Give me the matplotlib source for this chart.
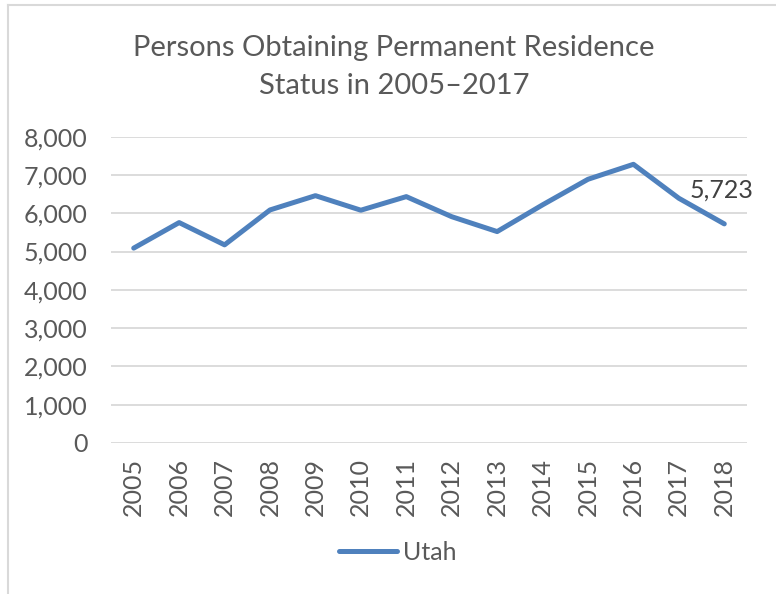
import matplotlib
matplotlib.use('Agg')
import matplotlib.pyplot as plt
from matplotlib.lines import Line2D
from matplotlib.ticker import FuncFormatter

years = ['2005', '2006', '2007', '2008', '2009', '2010', '2011',
         '2012', '2013', '2014', '2015', '2016', '2017', '2018']
utah = [5090, 5757, 5175, 6087, 6460, 6080, 6435,
        5911, 5522, 6220, 6888, 7279, 6392, 5723]

title = 'Persons Obtaining Permanent Residence\nStatus in 2005\u20132017'
line_color = '#4f81bd'
text_color = '#595959'
grid_color = '#d9d9d9'

plt.rcParams['font.family'] = ['Lato', 'DejaVu Sans']

fig = plt.figure(figsize=(7.76, 5.94), dpi=100)
ax = fig.add_axes([111 / 776, 1 - 443 / 594, (747 - 111) / 776, (443 - 136.7) / 594])

x = list(range(len(years)))
ax.plot(x, utah, color=line_color, linewidth=3.6, solid_capstyle='round',
        solid_joinstyle='round', label='Utah', zorder=3)

# data label on the last point only
ax.annotate(f'{utah[-1]:,}', (x[-1], utah[-1]), xytext=(-2, 16),
            textcoords='offset points', ha='center', va='bottom',
            fontsize=18, color='#404040')

ax.set_xlim(-0.5, len(years) - 0.5)
ax.set_ylim(0, 8000)
ax.set_yticks(range(0, 8001, 1000))
ax.yaxis.set_major_formatter(FuncFormatter(lambda v, p: f'{int(v):,}'))
ax.set_xticks(x)
ax.set_xticklabels(years, rotation=90)
ax.tick_params(axis='both', length=0, labelsize=18, labelcolor=text_color)
ax.tick_params(axis='y', pad=17)
ax.tick_params(axis='x', pad=11)
ax.grid(axis='y', color=grid_color, linewidth=1.3)
ax.set_axisbelow(True)
for s in ax.spines.values():
    s.set_visible(False)

fig.text(394 / 776, 1 - 67 / 594, title, ha='center', va='center',
         fontsize=21, color=text_color, linespacing=1.55)

fig.legend(loc='center', bbox_to_anchor=(398 / 776, 1 - 552 / 594),
           frameon=False, fontsize=18, handlelength=2.3, handletextpad=0.25,
           labelcolor=text_color)

# chart border (only the top and left edges are in view)
fig.add_artist(Line2D([8 / 776, 8 / 776], [0, 1 - 5 / 594], color=grid_color,
                      linewidth=1.5, transform=fig.transFigure))
fig.add_artist(Line2D([8 / 776, 1], [1 - 5 / 594, 1 - 5 / 594], color=grid_color,
                      linewidth=1.5, transform=fig.transFigure))

fig.savefig('out.png', dpi=100, facecolor='white')
